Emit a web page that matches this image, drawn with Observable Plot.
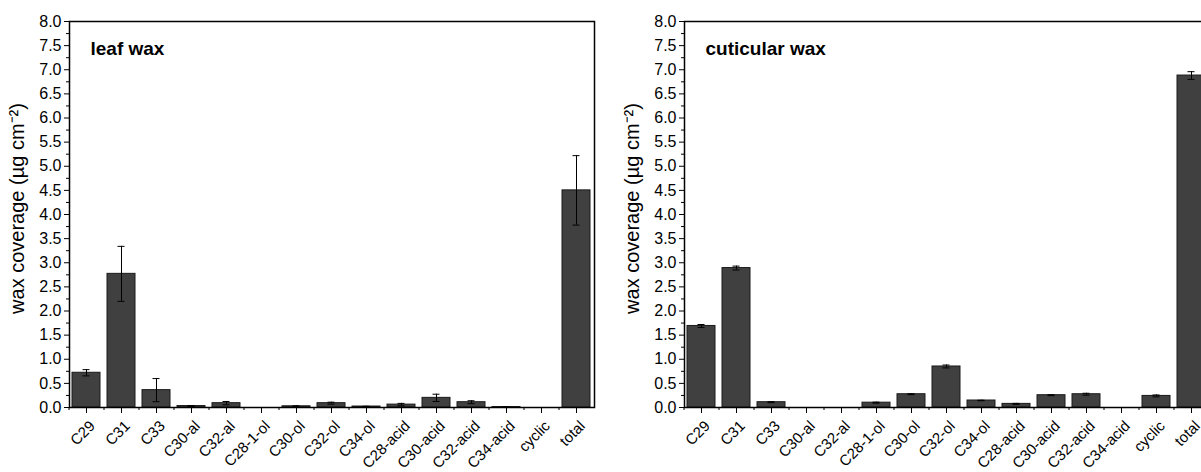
<!DOCTYPE html>
<html><head><meta charset="utf-8">
<script src="https://cdn.jsdelivr.net/npm/d3@7"></script>
<script src="https://cdn.jsdelivr.net/npm/@observablehq/plot@0.6"></script>
<style>
html,body{margin:0;padding:0;background:#fff;overflow:hidden;}
#wrap{position:relative;width:1230px;height:472px;}
#left,#right{position:absolute;top:0;}
#left{left:0}
#right{left:600px}
</style></head><body><div id="wrap"><div id="left"></div><div id="right"></div></div>
<script>
const categories = ["C29","C31","C33","C30-al","C32-al","C28-1-ol","C30-ol","C32-ol","C34-ol","C28-acid","C30-acid","C32-acid","C34-acid","cyclic","total"];
const leafMean = [0.72, 2.77, 0.36, 0.03, 0.09, 0.0, 0.025, 0.09, 0.02, 0.06, 0.20, 0.11, 0.01, 0.0, 4.50];
const leafErr  = [0.065, 0.57, 0.24, 0.01, 0.035, 0.0, 0.01, 0.02, 0.005, 0.025, 0.075, 0.03, 0.005, 0.0, 0.72];
const cutMean  = [1.69, 2.89, 0.11, 0.0, 0.0, 0.10, 0.275, 0.85, 0.145, 0.075, 0.255, 0.275, 0.0, 0.24, 6.88];
const cutErr   = [0.03, 0.04, 0.01, 0.0, 0.0, 0.01, 0.01, 0.03, 0.005, 0.01, 0.01, 0.02, 0.0, 0.02, 0.08];
const yMajorTicks = [0,0.5,1,1.5,2,2.5,3,3.5,4,4.5,5,5.5,6,6.5,7,7.5,8];
const yTickLabels = ["0.0","0.5","1.0","1.5","2.0","2.5","3.0","3.5","4.0","4.5","5.0","5.5","6.0","6.5","7.0","7.5","8.0"];
const yMinorTicks = [0.25,0.75,1.25,1.75,2.25,2.75,3.25,3.75,4.25,4.75,5.25,5.75,6.25,6.75,7.25,7.75];
const yLabel = "wax coverage (µg cm⁻²)";
const titles = ["leaf wax", "cuticular wax"];

const FONT = "'Liberation Sans', Arial, Helvetica, sans-serif";

function panel(title, mean, err, width, ml, mr) {
  const data = categories.map((c, i) => ({cat: c, v: mean[i], e: err[i]}));
  const withErr = data.filter(d => d.e > 0);
  const step = (width - ml - mr) / categories.length;
  return Plot.plot({
    width, height: 472,
    marginLeft: ml, marginRight: mr, marginTop: 21, marginBottom: 65,
    style: {fontFamily: FONT, fontSize: "15px", color: "#000", background: "#fff", overflow: "visible"},
    x: {domain: categories, paddingInner: 0.19, paddingOuter: 0.095, label: null},
    y: {domain: [0, 8], label: null},
    marks: [
      Plot.barY(data, {x: "cat", y: "v", fill: "#404040", stroke: "#1a1a1a", strokeWidth: 1}),
      Plot.ruleX(withErr, {x: "cat", y1: d => d.v - d.e, y2: d => d.v + d.e, stroke: "#000", strokeWidth: 1}),
      Plot.tickY(withErr, {x: "cat", y: d => d.v + d.e, stroke: "#000", strokeWidth: 1, insetLeft: 10.5, insetRight: 10.5}),
      Plot.tickY(withErr, {x: "cat", y: d => d.v - d.e, stroke: "#000", strokeWidth: 1, insetLeft: 10.5, insetRight: 10.5}),
      Plot.axisY(yMinorTicks, {tickSize: 3, tickFormat: () => "", stroke: "#000"}),
      Plot.axisY(yMajorTicks, {tickSize: 5, tickPadding: 3, tickFormat: (d) => yTickLabels[yMajorTicks.indexOf(d)], fontSize: 16, stroke: "#000", label: null}),
      Plot.axisX(categories, {tickSize: 3, tickFormat: () => "", dx: -step / 2, stroke: "#000", label: null}),
      Plot.axisX(categories, {tickSize: 6, tickFormat: () => "", stroke: "#000", label: null}),
      Plot.axisX(categories, {tickSize: 0, tickRotate: -45, tickPadding: 16, dx: 6, fontSize: 15, label: null}),
      Plot.frame({stroke: "#000", strokeWidth: 1.5}),
      Plot.text([title], {frameAnchor: "top-left", dx: 21, dy: 27, lineAnchor: "middle", textAnchor: "start", fontWeight: "bold", fontSize: 19, fill: "#000"}),
      Plot.text([yLabel], {frameAnchor: "left", dx: -52, dy: -6, rotate: -90, textAnchor: "middle", lineAnchor: "middle", fontSize: 20, fill: "#000"})
    ]
  });
}

document.getElementById("left").appendChild(panel(titles[0], leafMean, leafErr, 600, 69, 6));
document.getElementById("right").appendChild(panel(titles[1], cutMean, cutErr, 615, 84, 6));
</script></body></html>
